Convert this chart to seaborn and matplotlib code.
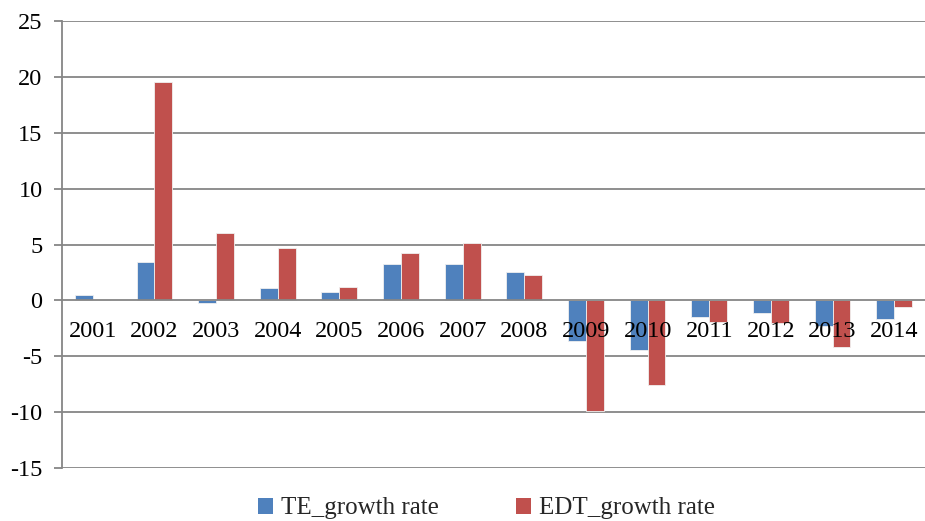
import matplotlib
matplotlib.use("Agg")
import matplotlib.pyplot as plt
import seaborn as sns
import pandas as pd
import numpy as np
from matplotlib.patches import Patch

years = ["2001", "2002", "2003", "2004", "2005", "2006", "2007",
         "2008", "2009", "2010", "2011", "2012", "2013", "2014"]
te_growth = [0.45, 3.41, -0.24, 1.14, 0.72, 3.29, 3.29,
             2.51, -3.62, -4.43, -1.50, -1.14, -2.25, -1.65]
edt_growth = [0.0, 19.5, 6.05, 4.73, 1.23, 4.25, 5.09,
              2.25, -9.91, -7.57, -1.95, -2.04, -4.19, -0.63]
series_names = ["TE_growth rate", "EDT_growth rate"]
colors = ["#4F81BD", "#C0504D"]
yticks = [-15, -10, -5, 0, 5, 10, 15, 20, 25]

df = pd.DataFrame({
    "year": years * 2,
    "value": te_growth + edt_growth,
    "series": [series_names[0]] * len(years) + [series_names[1]] * len(years),
})

sns.set_theme(style="white")
plt.rcParams["font.family"] = ["Liberation Serif", "DejaVu Serif"]

fig = plt.figure(figsize=(9.25, 5.21), dpi=100)
ax = fig.add_axes([0.067, 0.1017, 0.933, 0.858])

sns.barplot(data=df, x="year", y="value", hue="series", order=years,
            hue_order=series_names, palette=colors, width=0.58, gap=0,
            saturation=1, edgecolor="#f0f0f0", linewidth=0.6,
            legend=False, ax=ax)

grid_c = "#868686"
ax.set_axisbelow(False)
ax.set_ylim(-15, 25)
ax.set_xlim(-0.5, len(years) - 0.5)
ax.set_yticks(yticks)
ax.set_yticklabels([str(t) for t in yticks], fontsize=17.5, color="black")
for t in yticks:
    if t != 0:
        ax.axhline(t, color=grid_c, lw=1.3, zorder=0)

ax.set_xlabel("")
ax.set_ylabel("")

for s in ["top", "right"]:
    ax.spines[s].set_visible(False)
ax.spines["left"].set_color(grid_c)
ax.spines["left"].set_linewidth(1.3)
ax.spines["bottom"].set_position(("data", 0))
ax.spines["bottom"].set_color(grid_c)
ax.spines["bottom"].set_linewidth(1.3)

ax.set_xticks(range(len(years)))
ax.set_xticklabels(years, fontsize=17.5, color="black")
ax.set_xticks(np.arange(0.5, len(years) - 0.5, 1), minor=True)
ax.tick_params(axis="x", which="major", length=0, pad=15)
ax.tick_params(axis="x", which="minor", length=5, width=1.3, color=grid_c, direction="out")
ax.tick_params(axis="y", which="major", length=6, width=1.3, color=grid_c,
               direction="out", pad=8, left=True)

handles = [Patch(facecolor=c, edgecolor="none") for c in colors]
fig.legend(handles, series_names, loc="center", bbox_to_anchor=(0.526, 0.024),
           ncol=2, frameon=False, fontsize=18, handlelength=0.6, handleheight=0.6,
           handletextpad=0.3, columnspacing=3.1)

fig.savefig("out.png", dpi=100)
